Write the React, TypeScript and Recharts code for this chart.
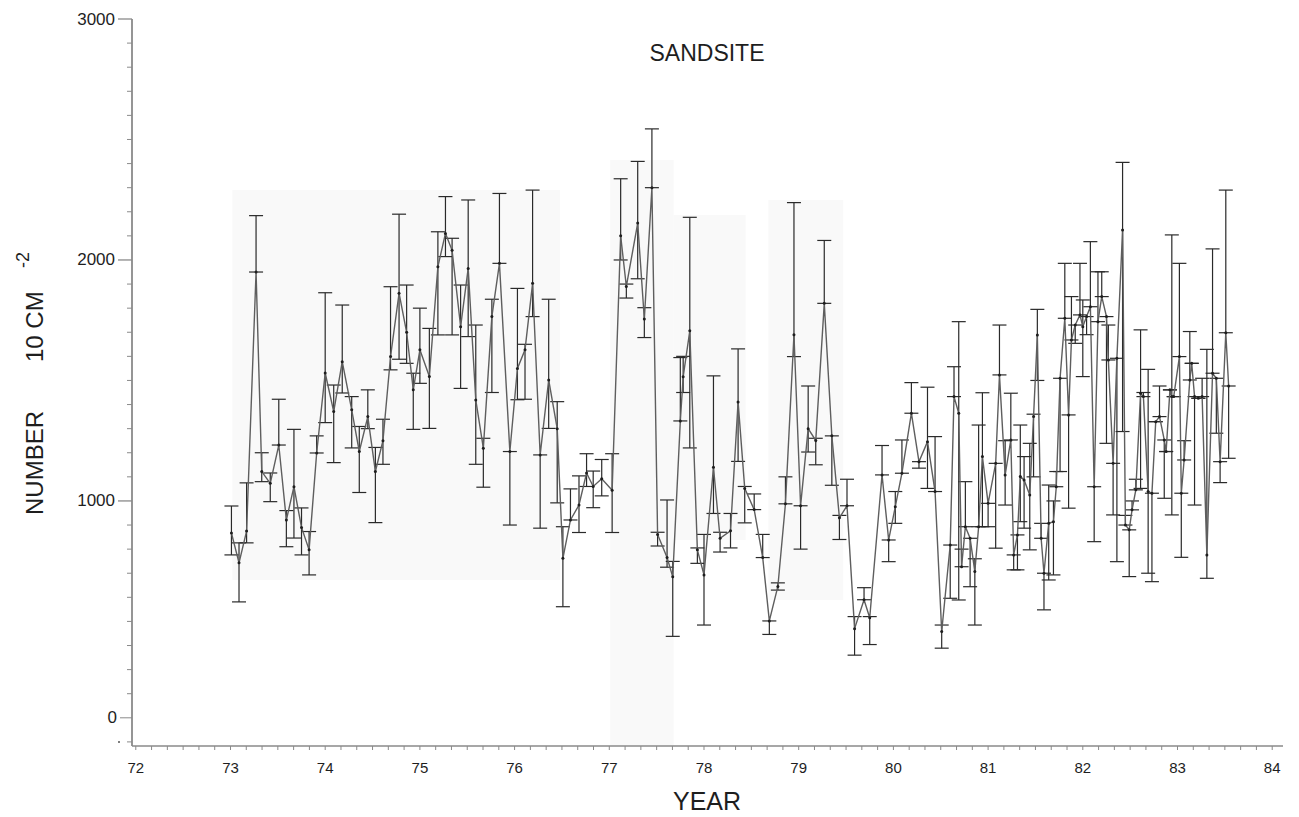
import { LineChart, Line, XAxis, YAxis, ErrorBar, ReferenceArea } from "recharts";

// sampling dates (decimal year, 19xx)
const years = [
  73.01, 73.09, 73.17, 73.27, 73.33, 73.42, 73.51, 73.59, 73.67, 73.75, 73.83, 73.91,
  74.0, 74.09, 74.18, 74.28, 74.36, 74.45, 74.53, 74.61, 74.69, 74.78, 74.86, 74.93,
  75.0, 75.1, 75.19, 75.27, 75.34, 75.43, 75.51, 75.59, 75.67, 75.76, 75.84, 75.95,
  76.03, 76.11, 76.19, 76.27, 76.36, 76.45, 76.51, 76.59, 76.68, 76.76, 76.83, 76.92,
  77.03, 77.12, 77.18, 77.3, 77.37, 77.45, 77.51, 77.61, 77.67, 77.75, 77.78, 77.85,
  77.93, 78.0, 78.1, 78.17, 78.28, 78.36, 78.43, 78.53, 78.62, 78.69, 78.78, 78.86,
  78.95, 79.02, 79.1, 79.18, 79.27, 79.35, 79.43, 79.51, 79.59, 79.69, 79.75, 79.88,
  79.95, 80.02, 80.09, 80.19, 80.27, 80.36, 80.44, 80.51, 80.6, 80.64, 80.69, 80.72,
  80.76, 80.81, 80.86, 80.9, 80.94, 81.0, 81.08, 81.12, 81.18, 81.24, 81.27, 81.31,
  81.34, 81.38, 81.44, 81.48, 81.52, 81.56, 81.59, 81.64, 81.69, 81.72, 81.76, 81.81,
  81.85, 81.88, 81.92, 81.97, 82.0, 82.04, 82.08, 82.12, 82.16, 82.2, 82.25, 82.27,
  82.32, 82.36, 82.42, 82.45, 82.49, 82.52, 82.56, 82.61, 82.64, 82.69, 82.73, 82.77,
  82.81, 82.86, 82.88, 82.92, 82.94, 82.96, 83.02, 83.04, 83.07, 83.13, 83.15, 83.18,
  83.22, 83.26, 83.31, 83.37, 83.41, 83.45, 83.51, 83.54,
];

// number per 10 cm^-2
const counts = [
  867, 743, 875, 1950, 1122, 1073, 1232, 921, 1059, 890, 797, 1199,
  1531, 1371, 1578, 1378, 1205, 1350, 1122, 1250, 1599, 1862, 1700, 1461,
  1627, 1516, 1972, 2110, 2040, 1723, 1965, 1419, 1219, 1765, 1986, 1205,
  1550, 1627, 1903, 1191, 1502, 1300, 762, 921, 983, 1116, 1060, 1092,
  1044, 2100, 1890, 2153, 1755, 2300, 861, 765, 685, 1332, 1515, 1706,
  797, 693, 1140, 845, 876, 1411, 1052, 964, 765, 502, 645, 988,
  1690, 980, 1300, 1251, 1820, 1270, 930, 980, 470, 590, 515, 1108,
  838, 976, 1115, 1364, 1163, 1246, 1039, 458, 817, 1433, 1364, 727,
  893, 845, 707, 893, 1184, 990, 1156, 1523, 1108, 1253, 776, 859,
  1101, 1087, 1025, 1350, 1689, 845, 700, 907, 914, 1059, 1509, 1758,
  1357, 1668, 1730, 1772, 1723, 1765, 1806, 1059, 1744, 1848, 1765, 1585,
  1156, 1592, 2124, 900, 880, 963, 1046, 1447, 1433, 1039, 1032, 1329,
  1350, 1253, 1205, 1461, 1433, 1433, 1599, 1032, 1170, 1502, 1571, 1433,
  1426, 1433, 776, 1530, 1509, 1163, 1698, 1477,
];

// lower / upper end of each error bar
const lows = [
  776, 581, 826, 1950, 1080, 997, 1232, 810, 846, 776, 693, 1199,
  1325, 1159, 1448, 1220, 1035, 1300, 910, 1152, 1544, 1588, 1571, 1297,
  1488, 1301, 1689, 2014, 1689, 1467, 1682, 1152, 1057, 1450, 1986, 900,
  1420, 1422, 1765, 887, 1301, 992, 561, 921, 869, 1060, 972, 1021,
  869, 2000, 1842, 1922, 1678, 2300, 813, 725, 438, 1332, 1450, 1220,
  741, 485, 948, 788, 805, 1164, 909, 964, 765, 446, 630, 988,
  1599, 800, 1203, 1150, 1820, 1065, 840, 980, 360, 590, 404, 1108,
  748, 907, 1115, 1364, 1136, 1052, 1039, 389, 596, 1433, 589, 727,
  893, 644, 485, 893, 893, 893, 804, 1523, 983, 1253, 714, 714,
  914, 887, 797, 1100, 1500, 845, 548, 672, 693, 1059, 1122, 1758,
  970, 1668, 1654, 1772, 1516, 1690, 1806, 831, 1744, 1848, 1239, 1585,
  942, 748, 1288, 900, 686, 963, 1046, 1052, 1433, 700, 665, 1329,
  1350, 1011, 1205, 1461, 942, 1433, 1599, 766, 1170, 1502, 1571, 983,
  1426, 1433, 679, 1530, 1281, 1076, 1698, 1177,
];

const highs = [
  979, 826, 1075, 2184, 1200, 1116, 1422, 960, 1297, 971, 873, 1270,
  1864, 1481, 1813, 1433, 1309, 1461, 1222, 1339, 1889, 2190, 1896, 1530,
  1800, 1716, 2117, 2263, 2090, 1896, 2249, 1730, 1260, 1837, 2276, 1205,
  1882, 1650, 2290, 1191, 1837, 1412, 893, 1050, 1104, 1196, 1124, 1172,
  1196, 2337, 1900, 2409, 1802, 2544, 870, 1004, 749, 1595, 1600, 2177,
  805, 861, 1519, 870, 948, 1631, 1060, 1029, 861, 502, 660, 1100,
  2238, 980, 1477, 1260, 2081, 1270, 940, 1090, 520, 640, 520, 1230,
  838, 1039, 1253, 1491, 1163, 1472, 1267, 485, 817, 1557, 1744, 800,
  1080, 845, 760, 1315, 1449, 990, 1156, 1730, 1250, 1447, 776, 859,
  1315, 1184, 1239, 1360, 1795, 907, 700, 1066, 1000, 1122, 1509, 1986,
  1357, 1848, 1730, 1986, 1834, 1765, 2076, 1059, 1951, 1951, 1765, 1730,
  1156, 1592, 2405, 940, 880, 1000, 1090, 1710, 1450, 1546, 1032, 1329,
  1477, 1253, 1205, 1461, 2104, 1433, 1986, 1032, 1250, 1703, 1571, 1433,
  1426, 1509, 1629, 2046, 1509, 1163, 2290, 1477,
];

const yearLabels = [72, 73, 74, 75, 76, 77, 78, 79, 80, 81, 82, 83, 84];
const countLabels = [0, 1000, 2000, 3000];

// faint pasted-paper patches visible in the scan (data units)
const patchFrom = [73.02, 77.01, 77.68, 78.68];
const patchTo = [76.48, 77.68, 78.44, 79.47];
const patchLow = [672, -17, 838, 589];
const patchHigh = [2290, 2415, 2187, 2249];

const FONT = "'Liberation Sans', Arial, Helvetica, sans-serif";
const AXIS = "#8a8a8a";
const INK = "#1e1e1e";

const rows = years.map((year, i) => ({
  year,
  count: counts[i],
  err: [counts[i] - lows[i], highs[i] - counts[i]],
}));

// minor ticks every two months, count ticks every 100
const yearTicks = yearLabels
  .slice(0, -1)
  .flatMap((y) => [0, 1, 2, 3, 4, 5].map((k) => y + k / 6))
  .concat(yearLabels[yearLabels.length - 1]);
const countTicks = Array.from({ length: 31 }, (_, i) => i * 100);

function YearTick(props: any) {
  const { x, y, payload } = props;
  const v = payload.value as number;
  const whole = Math.abs(v - Math.round(v)) < 1e-6;
  return (
    <g>
      <line x1={x} x2={x} y1={y} y2={y + 4} stroke={AXIS} strokeWidth={1} />
      {whole && (
        <text x={x} y={y + 21} textAnchor="middle" dominantBaseline="central" fontSize={15} fontFamily={FONT} fill={INK}>
          {Math.round(v)}
        </text>
      )}
    </g>
  );
}

function CountTick(props: any) {
  const { x, y, payload } = props;
  const v = payload.value as number;
  if (v === 0) {
    // the scan prints its zero label one minor step above the axis end
    const ly = y - 24.1;
    return (
      <g>
        <line x1={x - 5} x2={x} y1={y} y2={y} stroke={AXIS} />
        <circle cx={x - 13} cy={y} r={1} fill="#555" />
        <line x1={x - 12} x2={x} y1={ly} y2={ly} stroke={AXIS} />
        <text x={x - 15} y={ly} textAnchor="end" dominantBaseline="central" fontSize={17} fontFamily={FONT} fill={INK}>
          0
        </text>
      </g>
    );
  }
  if (v === 100) return <g />;
  const major = countLabels.includes(v);
  return (
    <g>
      <line x1={x - (major ? 14 : 5)} x2={x} y1={y} y2={y} stroke={AXIS} strokeWidth={major ? 1.3 : 1} />
      {major && (
        <text x={x - 17} y={y} textAnchor="end" dominantBaseline="central" fontSize={17} fontFamily={FONT} fill={INK}>
          {v}
        </text>
      )}
    </g>
  );
}

export default function App() {
  return (
    <div style={{ position: "relative", width: 1299, height: 817, background: "#fff" }}>
      <style>{"body{margin:0}"}</style>
      <LineChart width={1299} height={817} data={rows} margin={{ top: 19, right: 16, bottom: 0, left: 0 }}>
        {patchFrom.map((x1, i) => (
          <ReferenceArea
            key={i}
            x1={x1}
            x2={patchTo[i]}
            y1={patchLow[i]}
            y2={patchHigh[i]}
            fill="#f9f9f9"
            fillOpacity={1}
            stroke="none"
          />
        ))}
        <XAxis
          dataKey="year"
          type="number"
          domain={[71.96, 84.114]}
          ticks={yearTicks}
          interval={0}
          height={71}
          tickSize={0}
          tickMargin={0}
          tickLine={false}
          tick={YearTick}
          axisLine={{ stroke: AXIS, strokeWidth: 1.5 }}
        />
        <YAxis
          type="number"
          domain={[-17, 3000]}
          ticks={countTicks}
          interval={0}
          width={132}
          tickSize={0}
          tickMargin={0}
          tickLine={false}
          tick={CountTick}
          axisLine={{ stroke: AXIS, strokeWidth: 1.8 }}
        />
        <Line
          dataKey="count"
          type="linear"
          stroke="#5e5e5e"
          strokeWidth={1.4}
          dot={{ r: 1.5, fill: INK, stroke: "none" }}
          isAnimationActive={false}
        >
          <ErrorBar dataKey="err" direction="y" width={7} stroke="#2a2a2a" strokeWidth={1.2} isAnimationActive={false} />
        </Line>
      </LineChart>
      <svg width={1299} height={817} style={{ position: "absolute", left: 0, top: 0, pointerEvents: "none" }}>
        <text x={707} y={53} textAnchor="middle" dominantBaseline="central" fontSize={23} fontFamily={FONT} fill={INK}>
          SANDSITE
        </text>
        <text x={707} y={801} textAnchor="middle" dominantBaseline="central" fontSize={25} fontFamily={FONT} fill={INK}>
          YEAR
        </text>
        <text transform="translate(43, 515) rotate(-90)" fontSize={24} fontFamily={FONT} fill={INK}>
          <tspan x={0} y={0}>NUMBER</tspan>
          <tspan x={153} y={0}>10 CM</tspan>
          <tspan x={247} y={-14} fontSize={18}>-2</tspan>
        </text>
      </svg>
    </div>
  );
}
